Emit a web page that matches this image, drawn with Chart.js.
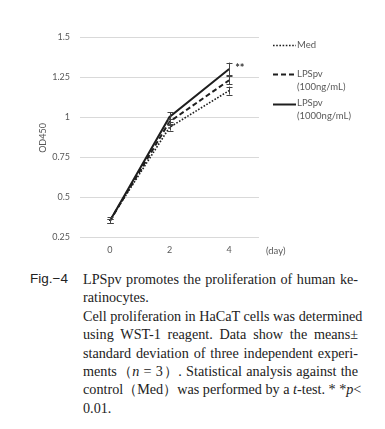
<!DOCTYPE html>
<html><head><meta charset="utf-8">
<script src="https://cdn.jsdelivr.net/npm/chart.js@4.4.0/dist/chart.umd.min.js"></script>
<style>
html,body{margin:0;padding:0;background:#fff;}
body{width:385px;height:429px;overflow:hidden;position:relative;}
#wrap{position:absolute;left:0;top:0;width:385px;height:265px;}
#fig{position:absolute;left:30px;top:271px;font-family:"Liberation Sans",Arial,sans-serif;font-size:13.5px;color:#222;}
#cap{position:absolute;left:83px;top:270px;width:275px;font-family:"Liberation Serif","Times New Roman",serif;font-size:14.2px;line-height:18.4px;color:#222;}
#cap div{white-space:nowrap;text-align:justify;text-align-last:justify;}
#cap div.l{text-align-last:left;}
</style></head>
<body>
<div id="wrap"><canvas id="c" width="385" height="265"></canvas></div>
<div id="fig">Fig.−4</div>
<div id="cap">
<div>LPSpv promotes the proliferation of human ke-</div>
<div class="l">ratinocytes.</div>
<div>Cell proliferation in HaCaT cells was determined</div>
<div>using WST-1 reagent. Data show the means±</div>
<div>standard deviation of three independent experi-</div>
<div>ments（<i>n</i> = 3）. Statistical analysis against the</div>
<div>control（Med）was performed by a <i>t</i>-test. * *<i>p</i>&lt;</div>
<div class="l">0.01.</div>
</div>
<script>
const days = ['0', '2', '4'];
const medValues = [0.355, 0.935, 1.165];
const medErr = [0.02, 0.02, 0.025];
const lps100Values = [0.35, 0.97, 1.23];
const lps100Err = [0.015, 0.02, 0.025];
const lps1000Values = [0.35, 1.00, 1.30];
const lps1000Err = [0.015, 0.03, 0.04];
const yTicks = [0.25, 0.5, 0.75, 1, 1.25, 1.5];
const legendLabels = [['Med'], ['LPSpv', '(100ng/mL)'], ['LPSpv', '(1000ng/mL)']];
const yTitle = 'OD450';
const xUnit = '(day)';
const sigMark = '**';

const errors = [medErr, lps100Err, lps1000Err];
const ink = '#1e1e1e';
const txt = '#595959';
const fontFam = 'Lato, "Open Sans", sans-serif';

const extras = {
  id: 'extras',
  afterDatasetsDraw(chart) {
    const ctx = chart.ctx;
    const ys = chart.scales.y;
    ctx.save();
    ctx.strokeStyle = '#444';
    ctx.lineWidth = 1;
    chart.data.datasets.forEach((ds, di) => {
      const meta = chart.getDatasetMeta(di);
      meta.data.forEach((pt, i) => {
        const v = ds.data[i], e = errors[di][i];
        const x = Math.round(pt.x) + 0.5;
        const t = ys.getPixelForValue(v + e), b = ys.getPixelForValue(v - e);
        ctx.beginPath();
        ctx.moveTo(x, t); ctx.lineTo(x, b);
        ctx.moveTo(x - 3, Math.round(t) + 0.5); ctx.lineTo(x + 3, Math.round(t) + 0.5);
        ctx.moveTo(x - 3, Math.round(b) + 0.5); ctx.lineTo(x + 3, Math.round(b) + 0.5);
        ctx.stroke();
      });
    });
    const m2 = chart.getDatasetMeta(2).data[2];
    ctx.fillStyle = '#333';
    ctx.font = 'bold 11px ' + fontFam;
    ctx.textAlign = 'left';
    ctx.textBaseline = 'middle';
    ctx.fillText(sigMark, m2.x + 6, ys.getPixelForValue(lps1000Values[2] + lps1000Err[2]) + 6);
    ctx.fillStyle = txt;
    ctx.font = '9px ' + fontFam;
    ctx.save();
    ctx.translate(43, (chart.chartArea.top + chart.chartArea.bottom) / 2 + 1);
    ctx.rotate(-Math.PI / 2);
    ctx.textAlign = 'center';
    ctx.fillText(yTitle, 0, 0);
    ctx.restore();
    ctx.textAlign = 'left';
    ctx.font = '9.5px ' + fontFam;
    ctx.fillText(xUnit, chart.chartArea.right + 7, chart.chartArea.bottom + 14);
    const rows = [45, 74, 104];
    chart.data.datasets.forEach((ds, di) => {
      const y = rows[di];
      ctx.save();
      ctx.strokeStyle = ds.borderColor;
      ctx.lineWidth = ds.borderWidth;
      ctx.setLineDash(ds.borderDash || []);
      ctx.beginPath();
      ctx.moveTo(273, y + 0.5); ctx.lineTo(296, y + 0.5);
      ctx.stroke();
      ctx.restore();
      ctx.fillStyle = txt;
      ctx.font = '9.5px ' + fontFam;
      legendLabels[di].forEach((s, k) => {
        ctx.fillText(s, 297, y - (di === 2 ? 1.5 : 0) + k * 13);
      });
    });
    ctx.restore();
  }
};

new Chart(document.getElementById('c'), {
  type: 'line',
  data: {
    labels: days,
    datasets: [
      { label: 'Med', data: medValues, borderColor: ink, borderWidth: 1.6, borderDash: [1.6, 1.6], pointRadius: 0, fill: false, tension: 0 },
      { label: 'LPSpv (100ng/mL)', data: lps100Values, borderColor: ink, borderWidth: 2, borderDash: [5, 3], pointRadius: 0, fill: false, tension: 0 },
      { label: 'LPSpv (1000ng/mL)', data: lps1000Values, borderColor: ink, borderWidth: 2, pointRadius: 0, fill: false, tension: 0 }
    ]
  },
  options: {
    responsive: false,
    animation: false,
    devicePixelRatio: 1,
    layout: { padding: { top: 37, right: 126, left: 0, bottom: 0 } },
    plugins: { legend: { display: false }, tooltip: { enabled: false } },
    scales: {
      x: {
        offset: true,
        grid: { display: false, drawTicks: false },
        border: { display: false },
        ticks: { color: txt, font: { family: fontFam, size: 9 }, padding: 8, maxRotation: 0 },
        afterFit(s) { s.height = 28; }
      },
      y: {
        min: 0.25, max: 1.5,
        afterBuildTicks(s) { s.ticks = yTicks.map(v => ({ value: v })); },
        grid: { color: '#d9d9d9', lineWidth: 1, drawTicks: false },
        border: { display: false },
        ticks: { color: txt, font: { family: fontFam, size: 9 }, padding: 10, callback: v => String(v) },
        afterFit(s) { s.width = 80; }
      }
    }
  },
  plugins: [extras]
});
</script>
</body></html>
